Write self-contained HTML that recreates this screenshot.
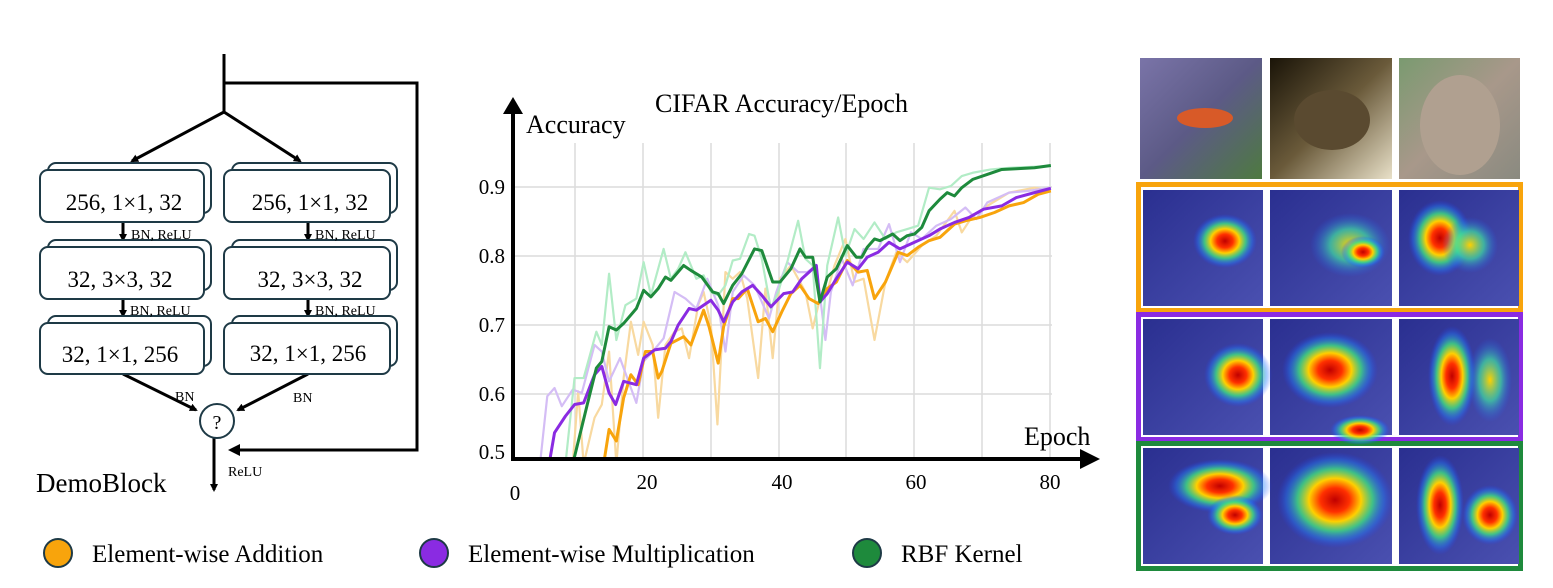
<!DOCTYPE html>
<html><head><meta charset="utf-8"><style>
html,body{margin:0;padding:0;background:#fff;}
svg{display:block;font-family:"Liberation Serif",serif;}
</style></head><body>
<svg width="1553" height="588" viewBox="0 0 1553 588" xmlns="http://www.w3.org/2000/svg">
<defs>
<marker id="ah" markerWidth="8" markerHeight="8" refX="6" refY="4" orient="auto" markerUnits="userSpaceOnUse"><path d="M0,0 L8,4 L0,8 z" fill="#000"/></marker>
<radialGradient id="hot"><stop offset="0" stop-color="#c00000"/><stop offset="0.25" stop-color="#ff3000"/><stop offset="0.45" stop-color="#ffd000"/><stop offset="0.65" stop-color="#40e080" stop-opacity="0.8"/><stop offset="0.85" stop-color="#2080ff" stop-opacity="0.4"/><stop offset="1" stop-color="#2040ff" stop-opacity="0"/></radialGradient>
<radialGradient id="warm"><stop offset="0" stop-color="#ffd000"/><stop offset="0.5" stop-color="#40e0a0" stop-opacity="0.7"/><stop offset="1" stop-color="#2060ff" stop-opacity="0"/></radialGradient>
<linearGradient id="bgheat" x1="0" y1="0" x2="1" y2="1"><stop offset="0" stop-color="#2a2f90"/><stop offset="1" stop-color="#4a50b0"/></linearGradient>
<linearGradient id="fish" x1="0" y1="0" x2="1" y2="1"><stop offset="0" stop-color="#7a74a8"/><stop offset="0.5" stop-color="#5c5a86"/><stop offset="1" stop-color="#4e7a40"/></linearGradient>
<linearGradient id="tril" x1="0" y1="0" x2="1" y2="1"><stop offset="0" stop-color="#1a1408"/><stop offset="0.5" stop-color="#6a5a3a"/><stop offset="1" stop-color="#e8e0c8"/></linearGradient>
<linearGradient id="lion" x1="0" y1="0" x2="1" y2="1"><stop offset="0" stop-color="#7a9a70"/><stop offset="0.5" stop-color="#a8988a"/><stop offset="1" stop-color="#8a8a80"/></linearGradient>
<clipPath id="cp"><rect x="513" y="100" width="545" height="359"/></clipPath>
</defs>

<!-- Block diagram -->
<g stroke="#000" stroke-width="3" fill="none">
<line x1="224" y1="54" x2="224" y2="112"/>
<polyline points="224,83 417,83 417,450 240,450"/>
<line x1="224" y1="112" x2="132" y2="161" marker-end="url(#ah)"/>
<line x1="224" y1="112" x2="300" y2="161" marker-end="url(#ah)"/>
<line x1="123" y1="222" x2="123" y2="240" marker-end="url(#ah)"/>
<line x1="123" y1="298" x2="123" y2="316" marker-end="url(#ah)"/>
<line x1="308" y1="222" x2="308" y2="240" marker-end="url(#ah)"/>
<line x1="308" y1="298" x2="308" y2="316" marker-end="url(#ah)"/>
<line x1="123" y1="374" x2="196" y2="410" marker-end="url(#ah)"/>
<line x1="308" y1="374" x2="238" y2="410" marker-end="url(#ah)"/>
<line x1="214" y1="437" x2="214" y2="490" marker-end="url(#ah)"/>
</g>
<polygon points="240,444 228,450 240,456" fill="#000"/>
<g stroke="#1e3a46" stroke-width="2" fill="#fff">
<rect x="48" y="163" width="163" height="50" rx="8"/><rect x="40" y="170" width="164" height="52" rx="8"/>
<rect x="232" y="163" width="165" height="50" rx="8"/><rect x="224" y="170" width="166" height="52" rx="8"/>
<rect x="48" y="240" width="163" height="50" rx="8"/><rect x="40" y="247" width="164" height="52" rx="8"/>
<rect x="232" y="240" width="165" height="50" rx="8"/><rect x="224" y="247" width="166" height="52" rx="8"/>
<rect x="48" y="316" width="163" height="50" rx="8"/><rect x="40" y="323" width="164" height="51" rx="8"/>
<rect x="232" y="316" width="165" height="50" rx="8"/><rect x="224" y="323" width="166" height="51" rx="8"/>
<circle cx="217" cy="421" r="17"/>
</g>
<g font-size="23" text-anchor="middle" fill="#000">
<text x="124" y="210">256, 1×1, 32</text><text x="310" y="210">256, 1×1, 32</text>
<text x="120" y="287">32, 3×3, 32</text><text x="310" y="287">32, 3×3, 32</text>
<text x="120" y="362">32, 1×1, 256</text><text x="308" y="361">32, 1×1, 256</text>
<text x="217" y="429" font-size="20">?</text>
</g>
<g font-size="14" fill="#000">
<text x="131" y="239">BN, ReLU</text><text x="315" y="239">BN, ReLU</text>
<text x="130" y="315">BN, ReLU</text><text x="315" y="315">BN, ReLU</text>
<text x="175" y="401">BN</text><text x="293" y="402">BN</text>
<text x="228" y="476">ReLU</text>
</g>
<text x="36" y="492" font-size="27">DemoBlock</text>

<!-- Chart -->
<g stroke="#dcdcdc" stroke-width="1.5">
<line x1="575" y1="143" x2="575" y2="459"/><line x1="643" y1="143" x2="643" y2="459"/>
<line x1="711" y1="143" x2="711" y2="459"/><line x1="779" y1="143" x2="779" y2="459"/>
<line x1="846" y1="143" x2="846" y2="459"/><line x1="914" y1="143" x2="914" y2="459"/>
<line x1="982" y1="143" x2="982" y2="459"/><line x1="1050" y1="143" x2="1050" y2="459"/>
<line x1="513" y1="187" x2="1052" y2="187"/><line x1="513" y1="256" x2="1052" y2="256"/>
<line x1="513" y1="325" x2="1052" y2="325"/><line x1="513" y1="394" x2="1052" y2="394"/>
</g>
<g clip-path="url(#cp)">
<g transform="translate(500,93.3) scale(0.3636,0.3311)" fill="none" stroke-linejoin="round">
<polyline vector-effect="non-scaling-stroke" stroke="#f8d9a0" stroke-width="2.2" points="200,1120 215,900 230,1120 260,980 280,940 300,780 320,1120 340,860 360,690 380,790 395,690 420,760 435,980 455,760 480,720 500,710 520,800 545,640 560,600 580,700 598,1000 620,540 640,560 660,540 680,620 710,860 730,590 750,800 770,560 800,520 820,560 840,600 860,710 880,620 900,600 920,520 950,440 975,570 1000,560 1030,745 1060,570 1090,480 1120,510 1160,460 1200,430 1250,355 1270,420 1300,370 1340,340 1400,300 1470,285 1515,295"/>
<polyline vector-effect="non-scaling-stroke" stroke="#d4bdf5" stroke-width="2.2" points="110,1120 130,915 150,890 170,945 200,895 225,905 260,760 280,780 300,870 330,800 350,860 375,935 395,810 420,780 450,740 480,600 510,620 540,650 570,560 600,640 620,780 640,600 670,550 700,580 740,680 760,600 790,510 820,540 845,540 870,520 895,745 910,600 940,500 970,580 1000,470 1040,470 1070,395 1100,510 1130,420 1160,440 1200,400 1240,380 1280,345 1310,380 1340,330 1400,300 1450,295 1515,285"/>
<polyline vector-effect="non-scaling-stroke" stroke="#b2ecc6" stroke-width="2.2" points="180,1120 205,860 230,860 265,720 280,760 300,545 320,745 345,640 375,620 395,510 415,610 450,470 470,560 490,530 510,480 540,560 560,550 580,600 600,610 620,580 640,505 660,500 685,425 700,430 720,500 745,650 765,600 790,510 820,385 840,500 860,520 880,830 900,520 930,375 950,490 975,410 1000,440 1030,390 1060,440 1090,420 1120,410 1150,400 1180,285 1210,290 1240,280 1270,250 1300,240 1350,230 1400,225 1515,220"/>
<polyline vector-effect="non-scaling-stroke" stroke="#f8a40c" stroke-width="3" points="230,1120 285,1120 300,1015 320,1050 340,920 360,850 380,880 400,780 420,780 435,860 445,840 470,755 505,735 525,760 560,655 575,705 600,815 615,705 640,620 655,620 680,590 695,640 710,690 730,680 750,720 775,660 800,605 825,580 850,620 875,635 900,590 925,570 955,505 985,540 1010,535 1030,620 1060,570 1095,480 1120,490 1150,465 1180,445 1210,435 1250,395 1280,385 1320,375 1360,360 1400,340 1440,330 1480,305 1515,295"/>
<polyline vector-effect="non-scaling-stroke" stroke="#8a2be2" stroke-width="3" points="135,1120 150,1025 180,975 205,940 230,935 260,850 280,825 300,905 318,940 340,870 375,880 395,800 425,775 455,770 470,750 490,700 520,650 540,655 580,625 600,655 615,690 640,630 665,600 695,580 720,610 745,645 780,605 805,600 830,560 870,520 880,630 900,605 925,560 955,510 985,530 1010,495 1040,480 1070,450 1100,470 1140,450 1180,430 1210,410 1250,390 1290,375 1330,350 1380,340 1420,315 1470,300 1515,287"/>
<polyline vector-effect="non-scaling-stroke" stroke="#1e8a3c" stroke-width="3" points="200,1120 240,940 265,830 280,810 300,705 320,715 340,695 375,650 395,595 415,615 435,590 455,555 470,565 505,520 525,535 555,555 585,600 600,605 615,635 640,580 665,545 700,470 720,475 750,570 770,570 800,530 825,470 840,495 860,495 880,630 900,555 925,530 955,460 980,495 995,495 1010,465 1030,440 1045,445 1080,425 1100,445 1120,430 1140,425 1160,405 1180,355 1210,320 1230,300 1250,310 1270,285 1300,260 1340,245 1380,230 1420,228 1470,225 1515,218"/>
</g>
</g>
<g stroke="#000" stroke-width="4" fill="none">
<line x1="513" y1="461" x2="513" y2="112"/>
<line x1="511" y1="459" x2="1082" y2="459"/>
</g>
<polygon points="503,114 513,97 523,114" fill="#000"/>
<polygon points="1080,449 1100,459 1080,469" fill="#000"/>
<text x="655" y="112" font-size="26">CIFAR Accuracy/Epoch</text>
<text x="526" y="133" font-size="26">Accuracy</text>
<text x="1024" y="445" font-size="26">Epoch</text>
<g font-size="21" fill="#000" text-anchor="end">
<text x="505" y="194">0.9</text><text x="505" y="263">0.8</text><text x="505" y="332">0.7</text><text x="505" y="401">0.6</text><text x="505" y="459">0.5</text>
</g>
<g font-size="21" fill="#000" text-anchor="middle">
<text x="515" y="500">0</text><text x="647" y="489">20</text><text x="782" y="489">40</text><text x="916" y="489">60</text><text x="1050" y="489">80</text>
</g>

<!-- Legend -->
<circle cx="58" cy="553" r="14" fill="#f8a40c" stroke="#1e3a46" stroke-width="2"/>
<text x="92" y="562" font-size="25">Element-wise Addition</text>
<circle cx="434" cy="553" r="14" fill="#8a2be2" stroke="#1e3a46" stroke-width="2"/>
<text x="468" y="562" font-size="25">Element-wise Multiplication</text>
<circle cx="867" cy="553" r="14" fill="#1e8a3c" stroke="#1e3a46" stroke-width="2"/>
<text x="901" y="562" font-size="25">RBF Kernel</text>

<!-- Images -->
<rect x="1140" y="58" width="122" height="121" fill="url(#fish)"/>
<ellipse cx="1205" cy="118" rx="28" ry="10" fill="#d85a28"/>
<rect x="1270" y="58" width="122" height="121" fill="url(#tril)"/>
<ellipse cx="1332" cy="120" rx="38" ry="30" fill="#5a4a30"/>
<rect x="1399" y="58" width="121" height="121" fill="url(#lion)"/>
<ellipse cx="1460" cy="125" rx="40" ry="50" fill="#b0a090"/>

<rect x="1138.5" y="184.5" width="382" height="126" fill="#fff" stroke="#f8a40c" stroke-width="5"/>
<rect x="1138.5" y="314.5" width="382" height="125" fill="#fff" stroke="#8a2be2" stroke-width="5"/>
<rect x="1138.5" y="443.5" width="382" height="125" fill="#fff" stroke="#1e8a3c" stroke-width="5"/>
<g fill="url(#bgheat)">
<rect x="1143" y="190" width="120" height="116"/><rect x="1270" y="190" width="122" height="116"/><rect x="1399" y="190" width="120" height="116"/>
<rect x="1143" y="319" width="120" height="116"/><rect x="1270" y="319" width="122" height="116"/><rect x="1399" y="319" width="120" height="116"/>
<rect x="1143" y="448" width="120" height="116"/><rect x="1270" y="448" width="122" height="116"/><rect x="1399" y="448" width="120" height="116"/>
</g>
<ellipse cx="1225" cy="241" rx="32" ry="27" fill="url(#hot)"/>
<ellipse cx="1350" cy="245" rx="40" ry="32" fill="url(#warm)"/>
<ellipse cx="1363" cy="252" rx="22" ry="16" fill="url(#hot)"/>
<ellipse cx="1440" cy="238" rx="32" ry="38" fill="url(#hot)"/>
<ellipse cx="1470" cy="245" rx="28" ry="28" fill="url(#warm)"/>
<ellipse cx="1238" cy="375" rx="34" ry="32" fill="url(#hot)"/>
<ellipse cx="1330" cy="370" rx="48" ry="38" fill="url(#hot)"/>
<ellipse cx="1360" cy="430" rx="30" ry="15" fill="url(#hot)"/>
<ellipse cx="1452" cy="376" rx="24" ry="50" fill="url(#hot)"/>
<ellipse cx="1490" cy="380" rx="22" ry="42" fill="url(#warm)"/>
<ellipse cx="1220" cy="486" rx="52" ry="27" fill="url(#hot)"/>
<ellipse cx="1235" cy="515" rx="28" ry="20" fill="url(#hot)"/>
<ellipse cx="1335" cy="500" rx="58" ry="48" fill="url(#hot)"/>
<ellipse cx="1440" cy="505" rx="24" ry="50" fill="url(#hot)"/>
<ellipse cx="1490" cy="515" rx="28" ry="30" fill="url(#hot)"/>
</svg>
</body></html>
